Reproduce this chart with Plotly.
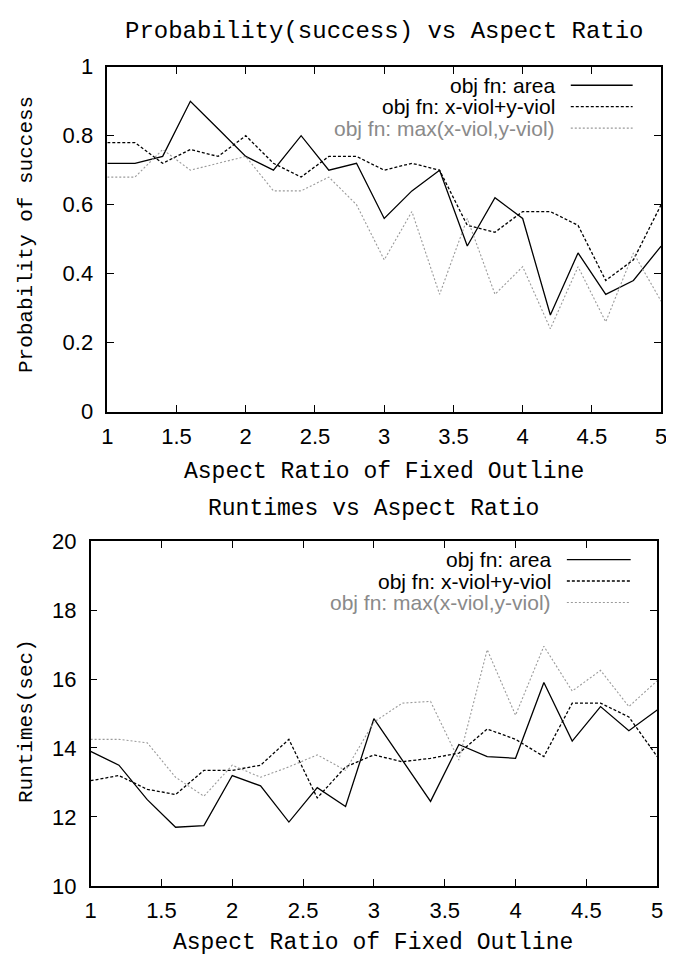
import plotly.graph_objects as go

# ---------------- data ----------------
aspect_ratio = [1.0, 1.2, 1.4, 1.6, 1.8, 2.0, 2.2, 2.4, 2.6, 2.8, 3.0,
                3.2, 3.4, 3.6, 3.8, 4.0, 4.2, 4.4, 4.6, 4.8, 5.0]

prob_area = [0.72, 0.72, 0.74, 0.90, 0.82, 0.74, 0.70, 0.80, 0.70, 0.72, 0.56,
             0.64, 0.70, 0.48, 0.62, 0.56, 0.28, 0.46, 0.34, 0.38, 0.48]
prob_sum = [0.78, 0.78, 0.72, 0.76, 0.74, 0.80, 0.72, 0.68, 0.74, 0.74, 0.70,
            0.72, 0.70, 0.54, 0.52, 0.58, 0.58, 0.54, 0.38, 0.44, 0.60]
prob_max = [0.68, 0.68, 0.76, 0.70, 0.72, 0.74, 0.64, 0.64, 0.68, 0.60, 0.44,
            0.58, 0.34, 0.56, 0.34, 0.42, 0.24, 0.42, 0.26, 0.46, 0.32]

rt_area = [13.9, 13.5, 12.5, 11.7, 11.75, 13.2, 12.9, 11.85, 12.85, 12.3, 14.85,
           13.65, 12.45, 14.1, 13.75, 13.7, 15.9, 14.2, 15.2, 14.5, 15.1]
rt_sum = [13.05, 13.2, 12.8, 12.65, 13.35, 13.35, 13.5, 14.25, 12.55, 13.45, 13.8,
          13.6, 13.7, 13.85, 14.55, 14.25, 13.75, 15.3, 15.3, 14.9, 13.75]
rt_max = [14.25, 14.25, 14.15, 13.15, 12.6, 13.5, 13.15, 13.45, 13.8, 13.35, 14.75,
          15.3, 15.35, 13.65, 16.85, 14.95, 16.95, 15.65, 16.25, 15.2, 15.95]

series_names = ["obj fn: area", "obj fn: x-viol+y-viol", "obj fn: max(x-viol,y-viol)"]

x_ticks = [1, 1.5, 2, 2.5, 3, 3.5, 4, 4.5, 5]
x_ticktext = ["1", "1.5", "2", "2.5", "3", "3.5", "4", "4.5", "5"]
prob_ticks = [0, 0.2, 0.4, 0.6, 0.8, 1]
prob_ticktext = ["0", "0.2", "0.4", "0.6", "0.8", "1"]
rt_ticks = [10, 12, 14, 16, 18, 20]
rt_ticktext = ["10", "12", "14", "16", "18", "20"]

title_top = "Probability(success) vs Aspect Ratio"
title_bottom = "Runtimes vs Aspect Ratio"
xtitle = "Aspect Ratio of Fixed Outline"
ytitle_top = "Probability of success"
ytitle_bottom = "Runtimes(sec)"

# ---------------- styling ----------------
PAGE_W, PAGE_H = 674, 969
OFF = 8  # default body margin of the html page
W, H = PAGE_W - OFF, PAGE_H - OFF

styles = [
    dict(color="#000000", width=1.3, dash="solid"),
    dict(color="#000000", width=1.3, dash="3px,2px"),
    dict(color="#9a9a9a", width=1.1, dash="2px,2px"),
]
legend_text_colors = ["#000000", "#000000", "#8a8a8a"]
MONO = "Liberation Mono"
SANS = "Liberation Sans"

def px_x(p):
    return (p - OFF) / W

def px_y(p):
    return 1 - (p - OFF) / H

fig = go.Figure()

for vals, st, nm in zip([prob_area, prob_sum, prob_max], styles, series_names):
    fig.add_trace(go.Scatter(x=aspect_ratio, y=vals, mode="lines", line=st,
                             name=nm, showlegend=False, xaxis="x", yaxis="y"))
for vals, st, nm in zip([rt_area, rt_sum, rt_max], styles, series_names):
    fig.add_trace(go.Scatter(x=aspect_ratio, y=vals, mode="lines", line=st,
                             name=nm, showlegend=False, xaxis="x2", yaxis="y2"))

axis_common = dict(showline=True, linecolor="black", linewidth=1.5, mirror="ticks",
                   ticks="inside", ticklen=7, tickwidth=1.2, tickcolor="black",
                   showgrid=False, zeroline=False,
                   tickfont=dict(family=SANS, size=22, color="black"))

top_x = [103, 667]
top_y = [56, 410]
bot_x = [86, 663]
bot_y = [543, 897]

fig.update_layout(
    width=W, height=H,
    margin=dict(l=0, r=0, t=0, b=0),
    paper_bgcolor="white", plot_bgcolor="white",
    xaxis=dict(domain=[px_x(top_x[0]), px_x(top_x[1])], range=[1, 5],
               tickvals=x_ticks, ticktext=x_ticktext, anchor="y",
               ticklabelstandoff=4, **axis_common),
    yaxis=dict(domain=[px_y(top_y[1]), px_y(top_y[0])], range=[0, 1],
               tickvals=prob_ticks, ticktext=prob_ticktext, anchor="x",
               ticklabelstandoff=8, **axis_common),
    xaxis2=dict(domain=[px_x(bot_x[0]), px_x(bot_x[1])], range=[1, 5],
                tickvals=x_ticks, ticktext=x_ticktext, anchor="y2",
                ticklabelstandoff=4, **axis_common),
    yaxis2=dict(domain=[px_y(bot_y[1]), px_y(bot_y[0])], range=[10, 20],
                tickvals=rt_ticks, ticktext=rt_ticktext, anchor="x2",
                ticklabelstandoff=8, **axis_common),
)

annotations = []
shapes = []

def add_text(text, x, y, size, family=MONO, color="black", angle=0,
             xanchor="center"):
    annotations.append(dict(text=text, x=px_x(x), y=px_y(y), xref="paper",
                            yref="paper", showarrow=False, xanchor=xanchor,
                            yanchor="middle", textangle=angle,
                            font=dict(family=family, size=size, color=color)))

# titles
add_text(title_top, 385, 20, 24)
add_text(xtitle, 385, 472, 23)
add_text(title_bottom, 374, 510, 23)
add_text(xtitle, 374, 956, 23)
add_text(ytitle_top, 20, 228, 21, angle=-90)
add_text(ytitle_bottom, 20, 728, 21, angle=-90)

# legends (gnuplot style: text right-aligned, sample on the right)
def add_legend(rows_y, text_right, sample_x0, sample_x1):
    for nm, st, col, yy in zip(series_names, styles, legend_text_colors, rows_y):
        add_text(nm, text_right, yy, 21, family=SANS, color=col, xanchor="right")
        shapes.append(dict(type="line", xref="paper", yref="paper",
                           x0=px_x(sample_x0), x1=px_x(sample_x1),
                           y0=px_y(yy), y1=px_y(yy),
                           line=dict(color=st["color"], width=st["width"],
                                     dash=st["dash"])))

add_legend([75, 97, 119], 561, 575, 638)
add_legend([562, 584, 606], 557, 571, 636)

fig.update_layout(annotations=annotations, shapes=shapes)

fig.write_html("out.html")
